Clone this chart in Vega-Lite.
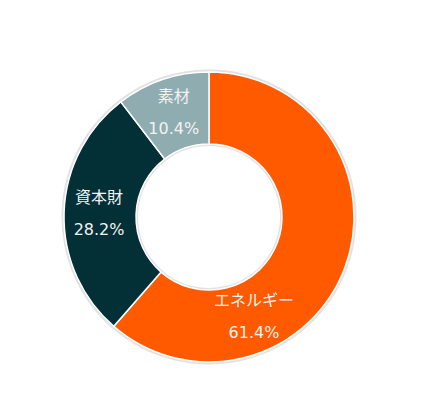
{
  "$schema": "https://vega.github.io/schema/vega-lite/v6.json",
  "width": 442,
  "height": 408,
  "autosize": {"type": "fit", "contains": "padding"},
  "padding": {"left": 0, "right": 24, "top": 26, "bottom": 0},
  "background": "white",
  "config": {"view": {"stroke": null}, "text": {"font": "Noto Sans CJK JP"}},
  "data": {
    "values": [
      {"category": "エネルギー", "value": 61.4, "pct": "61.4%", "order": 1},
      {"category": "資本財", "value": 28.2, "pct": "28.2%", "order": 2},
      {"category": "素材", "value": 10.4, "pct": "10.4%", "order": 3}
    ]
  },
  "encoding": {
    "theta": {"field": "value", "type": "quantitative", "stack": true, "scale": {"domain": [0, 100]}},
    "order": {"field": "order", "type": "quantitative"}
  },
  "layer": [
    {
      "mark": {"type": "arc", "outerRadius": 147.5, "innerRadius": 71, "color": "#bdbdbd", "opacity": 0.45, "strokeWidth": 0}
    },
    {
      "mark": {"type": "arc", "outerRadius": 145, "innerRadius": 73, "stroke": "white", "strokeWidth": 1.5},
      "encoding": {
        "color": {
          "field": "category",
          "type": "nominal",
          "scale": {"domain": ["エネルギー", "資本財", "素材"], "range": ["#FF5A00", "#032F36", "#8FADB1"]},
          "legend": null
        }
      }
    },
    {
      "mark": {"type": "text", "radius": 110, "dy": -16, "fontSize": 16, "color": "#F2F2F2"},
      "encoding": {
        "text": {"field": "category", "type": "nominal"},
        "opacity": {"condition": {"test": "datum.category === 'エネルギー'", "value": 0}, "value": 1}
      }
    },
    {
      "mark": {"type": "text", "radius": 110, "dy": 16, "fontSize": 16, "font": "DejaVu Sans", "color": "#F2F2F2"},
      "encoding": {
        "text": {"field": "pct", "type": "nominal"},
        "opacity": {"condition": {"test": "datum.category === 'エネルギー'", "value": 0}, "value": 1}
      }
    },
    {
      "transform": [{"filter": "datum.category === 'エネルギー'"}],
      "mark": {"type": "text", "radius": 110, "dx": -58, "dy": 45, "fontSize": 16, "color": "#F2F2F2"},
      "encoding": {"text": {"field": "category", "type": "nominal"}}
    },
    {
      "transform": [{"filter": "datum.category === 'エネルギー'"}],
      "mark": {"type": "text", "radius": 110, "dx": -58, "dy": 77, "fontSize": 16, "font": "DejaVu Sans", "color": "#F2F2F2"},
      "encoding": {"text": {"field": "pct", "type": "nominal"}}
    }
  ]
}
